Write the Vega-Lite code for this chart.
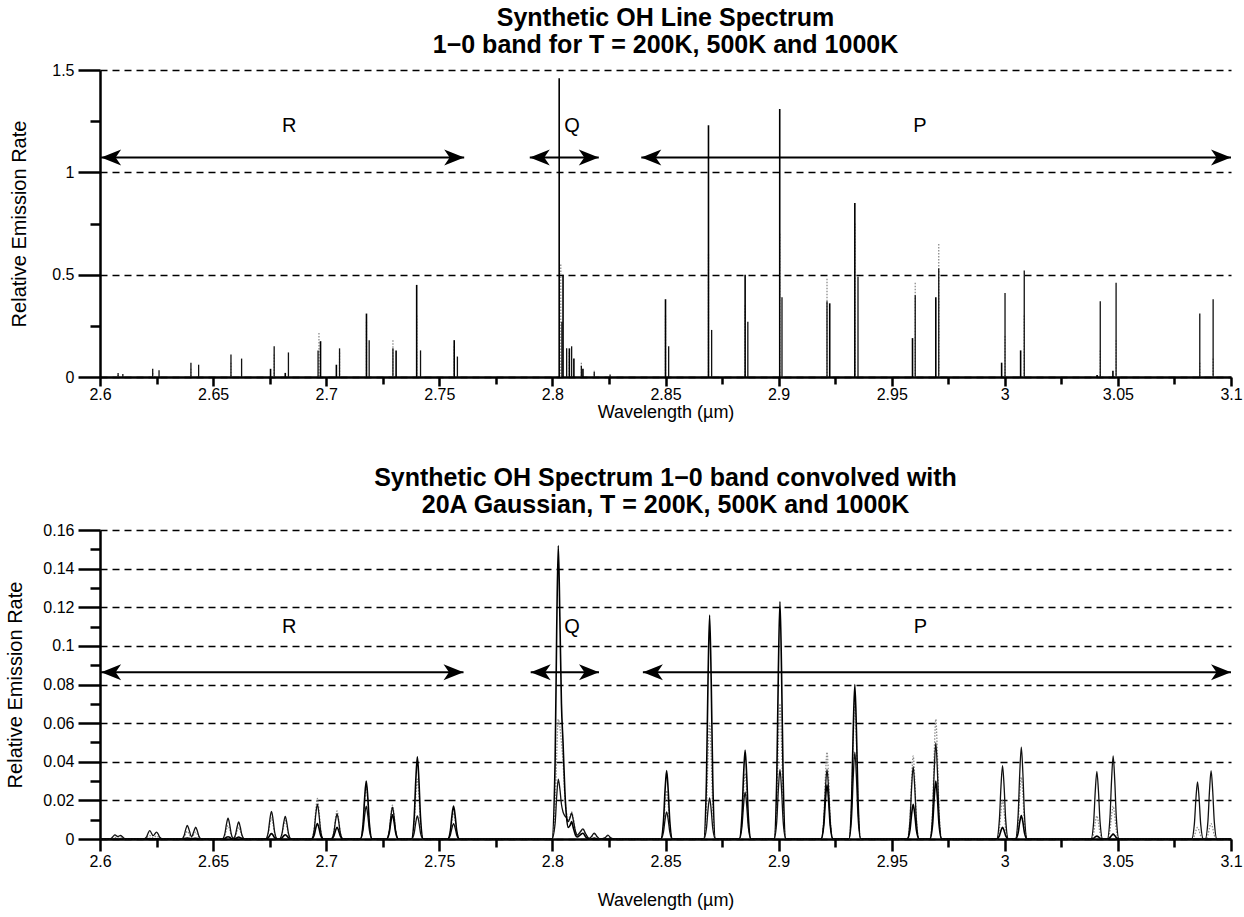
{
  "$schema": "https://vega.github.io/schema/vega-lite/v6.json",
  "background": "white",
  "padding": {"left": 5, "top": 6, "right": 10, "bottom": 4},
  "config": {
    "font": "Liberation Sans",
    "view": {"stroke": null},
    "axis": {
      "labelFont": "Liberation Sans", "titleFont": "Liberation Sans",
      "labelColor": "black", "titleColor": "black", "domainColor": "black", "tickColor": "black",
      "labelFontSize": 16, "titleFontWeight": "normal", "titleFontSize": 20,
      "labelFlush": false, "labelOverlap": false
    },
    "title": {"font": "Liberation Sans", "fontSize": 25, "fontWeight": "bold", "color": "black", "lineHeight": 27, "anchor": "middle", "frame": "group", "offset": 4}
  },
  "bounds": "flush",
  "spacing": 153,
  "datasets": {
    "lines": [
      {"w":2.608,"T":"1000K","v":0.02},{"w":2.608,"T":"500K","v":0.01},
      {"w":2.6101,"T":"1000K","v":0.015},
      {"w":2.6233,"T":"1000K","v":0.04},{"w":2.6233,"T":"500K","v":0.02},
      {"w":2.6261,"T":"1000K","v":0.033},
      {"w":2.6402,"T":"1000K","v":0.07},{"w":2.6402,"T":"500K","v":0.04},
      {"w":2.6436,"T":"1000K","v":0.06},
      {"w":2.6579,"T":"1000K","v":0.11},{"w":2.6579,"T":"500K","v":0.07},
      {"w":2.6626,"T":"1000K","v":0.09},
      {"w":2.6754,"T":"200K","v":0.04},
      {"w":2.677,"T":"1000K","v":0.15},{"w":2.677,"T":"500K","v":0.11},
      {"w":2.6819,"T":"200K","v":0.02},
      {"w":2.6833,"T":"1000K","v":0.12},
      {"w":2.6964,"T":"1000K","v":0.13},
      {"w":2.6968,"T":"500K","v":0.215},
      {"w":2.6975,"T":"200K","v":0.175},
      {"w":2.7045,"T":"200K","v":0.06},
      {"w":2.7059,"T":"1000K","v":0.14},{"w":2.7059,"T":"500K","v":0.12},
      {"w":2.7178,"T":"200K","v":0.31},{"w":2.7178,"T":"500K","v":0.27},
      {"w":2.719,"T":"1000K","v":0.18},
      {"w":2.7295,"T":"1000K","v":0.14},{"w":2.7295,"T":"500K","v":0.18},
      {"w":2.7309,"T":"200K","v":0.13},
      {"w":2.74,"T":"200K","v":0.45},{"w":2.74,"T":"500K","v":0.3},
      {"w":2.7417,"T":"1000K","v":0.13},
      {"w":2.7566,"T":"200K","v":0.18},{"w":2.7566,"T":"500K","v":0.15},
      {"w":2.758,"T":"1000K","v":0.1},
      {"w":2.803,"T":"200K","v":1.46},
      {"w":2.8037,"T":"500K","v":0.55},
      {"w":2.8042,"T":"1000K","v":0.27},
      {"w":2.8047,"T":"200K","v":0.5},
      {"w":2.8063,"T":"1000K","v":0.14},
      {"w":2.8075,"T":"200K","v":0.14},{"w":2.8075,"T":"500K","v":0.12},
      {"w":2.8085,"T":"1000K","v":0.15},
      {"w":2.8095,"T":"200K","v":0.09},
      {"w":2.8128,"T":"500K","v":0.07},{"w":2.8128,"T":"1000K","v":0.055},
      {"w":2.8135,"T":"200K","v":0.04},
      {"w":2.8185,"T":"500K","v":0.03},{"w":2.8185,"T":"1000K","v":0.025},
      {"w":2.8255,"T":"1000K","v":0.012},
      {"w":2.85,"T":"200K","v":0.38},{"w":2.85,"T":"500K","v":0.3},
      {"w":2.8514,"T":"1000K","v":0.15},
      {"w":2.869,"T":"200K","v":1.23},{"w":2.869,"T":"500K","v":0.6},
      {"w":2.8704,"T":"1000K","v":0.23},
      {"w":2.8852,"T":"200K","v":0.5},{"w":2.8852,"T":"500K","v":0.35},
      {"w":2.8864,"T":"1000K","v":0.27},
      {"w":2.9005,"T":"200K","v":1.31},{"w":2.9005,"T":"500K","v":0.7},
      {"w":2.9015,"T":"1000K","v":0.39},
      {"w":2.9214,"T":"500K","v":0.48},{"w":2.9214,"T":"1000K","v":0.37},
      {"w":2.9226,"T":"200K","v":0.36},
      {"w":2.9337,"T":"200K","v":0.85},{"w":2.9337,"T":"500K","v":0.75},
      {"w":2.9351,"T":"1000K","v":0.49},
      {"w":2.9592,"T":"200K","v":0.19},
      {"w":2.9604,"T":"500K","v":0.46},{"w":2.9604,"T":"1000K","v":0.4},
      {"w":2.9695,"T":"200K","v":0.39},
      {"w":2.9708,"T":"500K","v":0.65},{"w":2.9708,"T":"1000K","v":0.53},
      {"w":2.9986,"T":"200K","v":0.07},
      {"w":3.0001,"T":"1000K","v":0.41},{"w":3.0001,"T":"500K","v":0.2},
      {"w":3.007,"T":"200K","v":0.13},
      {"w":3.0086,"T":"1000K","v":0.52},{"w":3.0086,"T":"500K","v":0.3},
      {"w":3.0408,"T":"200K","v":0.01},
      {"w":3.0422,"T":"1000K","v":0.37},{"w":3.0422,"T":"500K","v":0.13},
      {"w":3.0478,"T":"200K","v":0.03},
      {"w":3.0492,"T":"1000K","v":0.46},{"w":3.0492,"T":"500K","v":0.18},
      {"w":3.0862,"T":"1000K","v":0.31},{"w":3.0862,"T":"500K","v":0.07},
      {"w":3.0921,"T":"1000K","v":0.38},{"w":3.0921,"T":"500K","v":0.09}
    ],
    "conv": [
      {"w":2.6,"a":0,"b":0,"c":0},
      {"w":2.604,"a":0,"b":0,"c":0},
      {"w":2.6052,"a":0,"b":0.0002,"c":0.0005},
      {"w":2.6059,"a":0,"b":0.0006,"c":0.0015},
      {"w":2.6066,"a":0,"b":0.0008,"c":0.0021},
      {"w":2.60785,"a":0,"b":0.0005,"c":0.0013},
      {"w":2.6091,"a":0,"b":0.0007,"c":0.0018},
      {"w":2.6098,"a":0,"b":0.0005,"c":0.0013},
      {"w":2.6105,"a":0,"b":0.0002,"c":0.0005},
      {"w":2.6117,"a":0,"b":0,"c":0},
      {"w":2.6194,"a":0,"b":0,"c":0},
      {"w":2.6206,"a":0.0001,"b":0.0005,"c":0.0011},
      {"w":2.6213,"a":0.0001,"b":0.0013,"c":0.0031},
      {"w":2.622,"a":0.0002,"b":0.0018,"c":0.0043},
      {"w":2.6235,"a":0.0001,"b":0.0007,"c":0.0017},
      {"w":2.625,"a":0.0001,"b":0.0015,"c":0.0036},
      {"w":2.6257,"a":0.0001,"b":0.0011,"c":0.0026},
      {"w":2.6264,"a":0,"b":0.0004,"c":0.0009},
      {"w":2.6276,"a":0,"b":0,"c":0},
      {"w":2.636,"a":0,"b":0,"c":0},
      {"w":2.6372,"a":0.0001,"b":0.001,"c":0.0018},
      {"w":2.6379,"a":0.0004,"b":0.0028,"c":0.005},
      {"w":2.6386,"a":0.0005,"b":0.004,"c":0.007},
      {"w":2.6393,"a":0.0004,"b":0.0029,"c":0.0051},
      {"w":2.64045,"a":0.0001,"b":0.0007,"c":0.0012},
      {"w":2.6416,"a":0.0003,"b":0.0025,"c":0.0043},
      {"w":2.6423,"a":0.0004,"b":0.0035,"c":0.0061},
      {"w":2.643,"a":0.0003,"b":0.0025,"c":0.0043},
      {"w":2.6437,"a":0.0001,"b":0.0009,"c":0.0016},
      {"w":2.6449,"a":0,"b":0,"c":0},
      {"w":2.654,"a":0,"b":0,"c":0},
      {"w":2.6552,"a":0.0003,"b":0.0018,"c":0.0028},
      {"w":2.6559,"a":0.0009,"b":0.005,"c":0.0077},
      {"w":2.6566,"a":0.0012,"b":0.007,"c":0.0108},
      {"w":2.6573,"a":0.0009,"b":0.005,"c":0.0077},
      {"w":2.658,"a":0.0003,"b":0.0018,"c":0.0028},
      {"w":2.65895,"a":0,"b":0.0002,"c":0.0004},
      {"w":2.6599,"a":0.0003,"b":0.0016,"c":0.0023},
      {"w":2.6606,"a":0.0007,"b":0.0043,"c":0.0062},
      {"w":2.6613,"a":0.001,"b":0.006,"c":0.0088},
      {"w":2.662,"a":0.0007,"b":0.0043,"c":0.0062},
      {"w":2.6627,"a":0.0003,"b":0.0016,"c":0.0023},
      {"w":2.6639,"a":0,"b":0,"c":0},
      {"w":2.6732,"a":0,"b":0,"c":0},
      {"w":2.6744,"a":0.0007,"b":0.0029,"c":0.0037},
      {"w":2.6751,"a":0.002,"b":0.0078,"c":0.0102},
      {"w":2.6758,"a":0.0028,"b":0.011,"c":0.0143},
      {"w":2.6765,"a":0.002,"b":0.0078,"c":0.0102},
      {"w":2.6772,"a":0.0007,"b":0.0029,"c":0.0037},
      {"w":2.6784,"a":0,"b":0,"c":0},
      {"w":2.6793,"a":0,"b":0,"c":0},
      {"w":2.6805,"a":0.0006,"b":0.0025,"c":0.003},
      {"w":2.6812,"a":0.0016,"b":0.0067,"c":0.0083},
      {"w":2.6819,"a":0.0022,"b":0.0095,"c":0.0117},
      {"w":2.6826,"a":0.0016,"b":0.0067,"c":0.0083},
      {"w":2.6833,"a":0.0006,"b":0.0025,"c":0.003},
      {"w":2.6845,"a":0,"b":0,"c":0},
      {"w":2.6935,"a":0,"b":0,"c":0},
      {"w":2.6947,"a":0.0021,"b":0.0055,"c":0.0047},
      {"w":2.6954,"a":0.0057,"b":0.0149,"c":0.0128},
      {"w":2.6961,"a":0.008,"b":0.021,"c":0.018},
      {"w":2.6968,"a":0.0057,"b":0.0149,"c":0.0128},
      {"w":2.6975,"a":0.0021,"b":0.0055,"c":0.0047},
      {"w":2.6987,"a":0,"b":0,"c":0},
      {"w":2.7022,"a":0,"b":0,"c":0},
      {"w":2.7034,"a":0.0016,"b":0.0038,"c":0.0034},
      {"w":2.7041,"a":0.0043,"b":0.0103,"c":0.0092},
      {"w":2.7048,"a":0.006,"b":0.0145,"c":0.013},
      {"w":2.7055,"a":0.0043,"b":0.0103,"c":0.0092},
      {"w":2.7062,"a":0.0016,"b":0.0038,"c":0.0034},
      {"w":2.7074,"a":0,"b":0,"c":0},
      {"w":2.7151,"a":0,"b":0,"c":0},
      {"w":2.7163,"a":0.0078,"b":0.007,"c":0.0044},
      {"w":2.717,"a":0.0213,"b":0.0192,"c":0.0121},
      {"w":2.7177,"a":0.03,"b":0.027,"c":0.017},
      {"w":2.7184,"a":0.0213,"b":0.0192,"c":0.0121},
      {"w":2.7191,"a":0.0078,"b":0.007,"c":0.0044},
      {"w":2.7203,"a":0,"b":0,"c":0},
      {"w":2.7267,"a":0,"b":0,"c":0},
      {"w":2.7279,"a":0.0033,"b":0.0046,"c":0.0043},
      {"w":2.7286,"a":0.0089,"b":0.0124,"c":0.0117},
      {"w":2.7293,"a":0.0125,"b":0.0175,"c":0.0165},
      {"w":2.73,"a":0.0089,"b":0.0124,"c":0.0117},
      {"w":2.7307,"a":0.0033,"b":0.0046,"c":0.0043},
      {"w":2.7319,"a":0,"b":0,"c":0},
      {"w":2.7377,"a":0,"b":0,"c":0},
      {"w":2.7389,"a":0.0111,"b":0.0081,"c":0.0031},
      {"w":2.7396,"a":0.0302,"b":0.022,"c":0.0085},
      {"w":2.7403,"a":0.0426,"b":0.031,"c":0.012},
      {"w":2.741,"a":0.0302,"b":0.022,"c":0.0085},
      {"w":2.7417,"a":0.0111,"b":0.0081,"c":0.0031},
      {"w":2.7429,"a":0,"b":0,"c":0},
      {"w":2.7537,"a":0,"b":0,"c":0},
      {"w":2.7549,"a":0.0044,"b":0.0035,"c":0.0021},
      {"w":2.7556,"a":0.0121,"b":0.0096,"c":0.0057},
      {"w":2.7563,"a":0.017,"b":0.0135,"c":0.008},
      {"w":2.757,"a":0.0121,"b":0.0096,"c":0.0057},
      {"w":2.7577,"a":0.0044,"b":0.0035,"c":0.0021},
      {"w":2.7589,"a":0,"b":0,"c":0},
      {"w":2.7998,"a":0,"b":0,"c":0},
      {"w":2.8012,"a":0.04,"b":0.016,"c":0.008},
      {"w":2.8019,"a":0.108,"b":0.044,"c":0.022},
      {"w":2.8026,"a":0.152,"b":0.062,"c":0.031},
      {"w":2.8033,"a":0.115,"b":0.058,"c":0.026},
      {"w":2.804,"a":0.07,"b":0.05,"c":0.018},
      {"w":2.8047,"a":0.05,"b":0.04,"c":0.014},
      {"w":2.8055,"a":0.025,"b":0.022,"c":0.012},
      {"w":2.8062,"a":0.012,"b":0.014,"c":0.011},
      {"w":2.807,"a":0.006,"b":0.01,"c":0.009},
      {"w":2.8078,"a":0.007,"b":0.012,"c":0.011},
      {"w":2.8085,"a":0.009,"b":0.014,"c":0.0135},
      {"w":2.8092,"a":0.006,"b":0.011,"c":0.01},
      {"w":2.8102,"a":0.002,"b":0.004,"c":0.004},
      {"w":2.811,"a":0.001,"b":0.002,"c":0.002},
      {"w":2.8122,"a":0.002,"b":0.003,"c":0.0035},
      {"w":2.8135,"a":0.003,"b":0.005,"c":0.0052},
      {"w":2.8148,"a":0.001,"b":0.002,"c":0.0025},
      {"w":2.8162,"a":0,"b":0,"c":0.0003},
      {"w":2.8172,"a":0,"b":0.001,"c":0.0012},
      {"w":2.8185,"a":0.0005,"b":0.0025,"c":0.003},
      {"w":2.8198,"a":0,"b":0.001,"c":0.0012},
      {"w":2.8211,"a":0,"b":0,"c":0},
      {"w":2.8232,"a":0,"b":0.0005,"c":0.0006},
      {"w":2.8245,"a":0,"b":0.0015,"c":0.002},
      {"w":2.8258,"a":0,"b":0.0005,"c":0.0006},
      {"w":2.8272,"a":0,"b":0,"c":0},
      {"w":2.8479,"a":0,"b":0,"c":0},
      {"w":2.8491,"a":0.0092,"b":0.0065,"c":0.0036},
      {"w":2.8498,"a":0.0251,"b":0.0178,"c":0.0099},
      {"w":2.8505,"a":0.0354,"b":0.025,"c":0.014},
      {"w":2.8512,"a":0.0251,"b":0.0178,"c":0.0099},
      {"w":2.8519,"a":0.0092,"b":0.0065,"c":0.0036},
      {"w":2.8531,"a":0,"b":0,"c":0},
      {"w":2.8669,"a":0,"b":0,"c":0},
      {"w":2.8681,"a":0.0302,"b":0.0156,"c":0.0055},
      {"w":2.8688,"a":0.0824,"b":0.0426,"c":0.0151},
      {"w":2.8695,"a":0.116,"b":0.06,"c":0.0213},
      {"w":2.8702,"a":0.0824,"b":0.0426,"c":0.0151},
      {"w":2.8709,"a":0.0302,"b":0.0156,"c":0.0055},
      {"w":2.8721,"a":0,"b":0,"c":0},
      {"w":2.8826,"a":0,"b":0,"c":0},
      {"w":2.8838,"a":0.012,"b":0.0088,"c":0.0063},
      {"w":2.8845,"a":0.0327,"b":0.0241,"c":0.0173},
      {"w":2.8852,"a":0.046,"b":0.034,"c":0.0244},
      {"w":2.8859,"a":0.0327,"b":0.0241,"c":0.0173},
      {"w":2.8866,"a":0.012,"b":0.0088,"c":0.0063},
      {"w":2.8878,"a":0,"b":0,"c":0},
      {"w":2.898,"a":0,"b":0,"c":0},
      {"w":2.8992,"a":0.032,"b":0.0182,"c":0.0094},
      {"w":2.8999,"a":0.0873,"b":0.0497,"c":0.0256},
      {"w":2.9006,"a":0.123,"b":0.07,"c":0.036},
      {"w":2.9013,"a":0.0873,"b":0.0497,"c":0.0256},
      {"w":2.902,"a":0.032,"b":0.0182,"c":0.0094},
      {"w":2.9032,"a":0,"b":0,"c":0},
      {"w":2.9188,"a":0,"b":0,"c":0},
      {"w":2.92,"a":0.0073,"b":0.0117,"c":0.0094},
      {"w":2.9207,"a":0.0199,"b":0.032,"c":0.0256},
      {"w":2.9214,"a":0.028,"b":0.045,"c":0.036},
      {"w":2.9221,"a":0.0199,"b":0.032,"c":0.0256},
      {"w":2.9228,"a":0.0073,"b":0.0117,"c":0.0094},
      {"w":2.924,"a":0,"b":0,"c":0},
      {"w":2.9311,"a":0,"b":0,"c":0},
      {"w":2.9323,"a":0.0208,"b":0.0187,"c":0.0117},
      {"w":2.933,"a":0.0568,"b":0.0511,"c":0.032},
      {"w":2.9337,"a":0.08,"b":0.072,"c":0.045},
      {"w":2.9344,"a":0.0568,"b":0.0511,"c":0.032},
      {"w":2.9351,"a":0.0208,"b":0.0187,"c":0.0117},
      {"w":2.9363,"a":0,"b":0,"c":0},
      {"w":2.9569,"a":0,"b":0,"c":0},
      {"w":2.9581,"a":0.0047,"b":0.0112,"c":0.0098},
      {"w":2.9588,"a":0.0128,"b":0.0305,"c":0.0266},
      {"w":2.9595,"a":0.018,"b":0.043,"c":0.0375},
      {"w":2.9602,"a":0.0128,"b":0.0305,"c":0.0266},
      {"w":2.9609,"a":0.0047,"b":0.0112,"c":0.0098},
      {"w":2.9621,"a":0,"b":0,"c":0},
      {"w":2.9669,"a":0,"b":0,"c":0},
      {"w":2.9681,"a":0.0078,"b":0.0161,"c":0.0129},
      {"w":2.9688,"a":0.0213,"b":0.044,"c":0.0353},
      {"w":2.9695,"a":0.03,"b":0.062,"c":0.0497},
      {"w":2.9702,"a":0.0213,"b":0.044,"c":0.0353},
      {"w":2.9709,"a":0.0078,"b":0.0161,"c":0.0129},
      {"w":2.9721,"a":0,"b":0,"c":0},
      {"w":2.9964,"a":0,"b":0,"c":0},
      {"w":2.9976,"a":0.0016,"b":0.0052,"c":0.0099},
      {"w":2.9983,"a":0.0043,"b":0.0142,"c":0.027},
      {"w":2.999,"a":0.006,"b":0.02,"c":0.038},
      {"w":2.9997,"a":0.0043,"b":0.0142,"c":0.027},
      {"w":3.0004,"a":0.0016,"b":0.0052,"c":0.0099},
      {"w":3.0016,"a":0,"b":0,"c":0},
      {"w":3.0047,"a":0,"b":0,"c":0},
      {"w":3.0059,"a":0.0032,"b":0.0083,"c":0.0124},
      {"w":3.0066,"a":0.0087,"b":0.0227,"c":0.0338},
      {"w":3.0073,"a":0.0122,"b":0.032,"c":0.0476},
      {"w":3.008,"a":0.0087,"b":0.0227,"c":0.0338},
      {"w":3.0087,"a":0.0032,"b":0.0083,"c":0.0124},
      {"w":3.0099,"a":0,"b":0,"c":0},
      {"w":3.0381,"a":0,"b":0,"c":0},
      {"w":3.0393,"a":0.0004,"b":0.0031,"c":0.0091},
      {"w":3.04,"a":0.0011,"b":0.0085,"c":0.0249},
      {"w":3.0407,"a":0.0015,"b":0.012,"c":0.035},
      {"w":3.0414,"a":0.0011,"b":0.0085,"c":0.0249},
      {"w":3.0421,"a":0.0004,"b":0.0031,"c":0.0091},
      {"w":3.0433,"a":0,"b":0,"c":0},
      {"w":3.0453,"a":0,"b":0,"c":0},
      {"w":3.0465,"a":0.0007,"b":0.0044,"c":0.0112},
      {"w":3.0472,"a":0.0018,"b":0.0121,"c":0.0305},
      {"w":3.0479,"a":0.0025,"b":0.017,"c":0.043},
      {"w":3.0486,"a":0.0018,"b":0.0121,"c":0.0305},
      {"w":3.0493,"a":0.0007,"b":0.0044,"c":0.0112},
      {"w":3.0505,"a":0,"b":0,"c":0},
      {"w":3.0826,"a":0,"b":0,"c":0},
      {"w":3.0838,"a":0,"b":0.0016,"c":0.0077},
      {"w":3.0845,"a":0,"b":0.0043,"c":0.021},
      {"w":3.0852,"a":0,"b":0.006,"c":0.0296},
      {"w":3.0859,"a":0,"b":0.0043,"c":0.021},
      {"w":3.0866,"a":0,"b":0.0016,"c":0.0077},
      {"w":3.0878,"a":0,"b":0,"c":0},
      {"w":3.0886,"a":0,"b":0,"c":0},
      {"w":3.0898,"a":0,"b":0.0021,"c":0.0092},
      {"w":3.0905,"a":0,"b":0.0057,"c":0.0251},
      {"w":3.0912,"a":0,"b":0.008,"c":0.0354},
      {"w":3.0919,"a":0,"b":0.0057,"c":0.0251},
      {"w":3.0926,"a":0,"b":0.0021,"c":0.0092},
      {"w":3.0938,"a":0,"b":0,"c":0},
      {"w":3.1,"a":0,"b":0,"c":0}
    ],
    "shaftsTop": [
      {"x1":2.6005,"x2":2.761,"y":1.073},
      {"x1":2.79,"x2":2.8205,"y":1.073},
      {"x1":2.8393,"x2":3.1,"y":1.073}
    ],
    "headsTop": [
      {"x":2.6005,"y":1.073,"dir":"left"},{"x":2.761,"y":1.073,"dir":"right"},
      {"x":2.79,"y":1.073,"dir":"left"},{"x":2.8205,"y":1.073,"dir":"right"},
      {"x":2.8393,"y":1.073,"dir":"left"},{"x":3.1,"y":1.073,"dir":"right"}
    ],
    "namesTop": [
      {"x":2.6837,"y":1.228,"t":"R"},{"x":2.8087,"y":1.228,"t":"Q"},{"x":2.9625,"y":1.228,"t":"P"}
    ],
    "shaftsBottom": [
      {"x1":2.6005,"x2":2.7607,"y":0.0864},
      {"x1":2.7904,"x2":2.8206,"y":0.0864},
      {"x1":2.84,"x2":3.1,"y":0.0864}
    ],
    "headsBottom": [
      {"x":2.6005,"y":0.0864,"dir":"left"},{"x":2.7607,"y":0.0864,"dir":"right"},
      {"x":2.7904,"y":0.0864,"dir":"left"},{"x":2.8206,"y":0.0864,"dir":"right"},
      {"x":2.84,"y":0.0864,"dir":"left"},{"x":3.1,"y":0.0864,"dir":"right"}
    ],
    "namesBottom": [
      {"x":2.6837,"y":0.11,"t":"R"},{"x":2.8087,"y":0.11,"t":"Q"},{"x":2.9627,"y":0.11,"t":"P"}
    ]
  },
  "vconcat": [
    {
      "title": {"text": ["Synthetic OH Line Spectrum", "1−0 band for T = 200K, 500K and 1000K"]},
      "width": 1131,
      "height": 307,
      "resolve": {"axis": {"x": "independent", "y": "independent"}},
      "layer": [
        {
          "data": {"name": "lines"},
          "transform": [{"filter": "datum.T === '500K'"}],
          "mark": {"type": "rule", "color": "#8c8c8c", "strokeWidth": 1.3, "strokeDash": [1.5, 1.5]},
          "encoding": {
            "x": {"field": "w", "type": "quantitative", "scale": {"domain": [2.6, 3.1], "nice": false, "zero": false},
              "axis": {"values": [2.6, 2.65, 2.7, 2.75, 2.8, 2.85, 2.9, 2.95, 3, 3.05, 3.1], "format": "~g", "tickSize": 9, "tickWidth": 2.5, "domainWidth": 2.5, "labelPadding": 0, "grid": false, "title": "Wavelength (µm)", "titleFontSize": 18, "titlePadding": 1}},
            "y": {"field": "v", "type": "quantitative", "scale": {"domain": [0, 1.5], "nice": false},
              "axis": {"values": [0, 0.5, 1, 1.5], "format": "~g", "tickSize": 22, "tickWidth": 2.5, "domainWidth": 2.5, "labelPadding": 4, "grid": true, "gridDash": [7, 5], "gridColor": "black", "gridWidth": 1.5, "gridOpacity": 1, "title": "Relative Emission Rate", "titlePadding": 22}},
            "y2": {"datum": 0}
          }
        },
        {
          "data": {"name": "lines"},
          "transform": [{"filter": "datum.T === '1000K'"}],
          "mark": {"type": "rule", "color": "#111111", "strokeWidth": 1.3},
          "encoding": {
            "x": {"field": "w", "type": "quantitative",
              "axis": {"orient": "bottom", "values": [2.625, 2.675, 2.725, 2.775, 2.825, 2.875, 2.925, 2.975, 3.025, 3.075], "tickSize": 7, "tickWidth": 2.5, "labels": false, "domain": false, "grid": false, "title": null}},
            "y": {"field": "v", "type": "quantitative",
              "axis": {"orient": "left", "values": [0.25, 0.75, 1.25], "tickSize": 10, "tickWidth": 2.5, "labels": false, "domain": false, "grid": false, "title": null}},
            "y2": {"datum": 0}
          }
        },
        {
          "data": {"name": "lines"},
          "transform": [{"filter": "datum.T === '200K'"}],
          "mark": {"type": "rule", "color": "black", "strokeWidth": 1.6},
          "encoding": {
            "x": {"field": "w", "type": "quantitative", "axis": null},
            "y": {"field": "v", "type": "quantitative", "axis": null},
            "y2": {"datum": 0}
          }
        },
        {
          "data": {"name": "shaftsTop"},
          "mark": {"type": "rule", "color": "black", "strokeWidth": 2},
          "encoding": {
            "x": {"field": "x1", "type": "quantitative", "axis": null},
            "x2": {"field": "x2"},
            "y": {"field": "y", "type": "quantitative", "axis": null}
          }
        },
        {
          "data": {"name": "headsTop"},
          "mark": {"type": "point", "filled": true, "color": "black", "opacity": 1, "size": 400},
          "encoding": {
            "x": {"field": "x", "type": "quantitative", "axis": null},
            "y": {"field": "y", "type": "quantitative", "axis": null},
            "shape": {"field": "dir", "type": "nominal", "legend": null,
              "scale": {"domain": ["left", "right"], "range": ["M0,0L2,-0.8L1.45,0L2,0.8Z", "M0,0L-2,-0.8L-1.45,0L-2,0.8Z"]}}
          }
        },
        {
          "data": {"name": "namesTop"},
          "mark": {"type": "text", "fontSize": 20, "font": "Liberation Sans", "color": "black", "align": "center", "baseline": "middle"},
          "encoding": {
            "x": {"field": "x", "type": "quantitative", "axis": null},
            "y": {"field": "y", "type": "quantitative", "axis": null},
            "text": {"field": "t"}
          }
        }
      ]
    },
    {
      "title": {"text": ["Synthetic OH Spectrum 1−0 band convolved with", "20A Gaussian, T = 200K, 500K and 1000K"]},
      "width": 1131,
      "height": 309,
      "resolve": {"axis": {"x": "independent", "y": "independent"}},
      "layer": [
        {
          "data": {"name": "conv"},
          "mark": {"type": "line", "color": "#8c8c8c", "strokeWidth": 1.3, "strokeDash": [1.5, 1.5], "interpolate": "monotone"},
          "encoding": {
            "x": {"field": "w", "type": "quantitative", "scale": {"domain": [2.6, 3.1], "nice": false, "zero": false},
              "axis": {"values": [2.6, 2.65, 2.7, 2.75, 2.8, 2.85, 2.9, 2.95, 3, 3.05, 3.1], "format": "~g", "tickSize": 12, "tickWidth": 2.5, "domainWidth": 2.5, "labelPadding": 2, "grid": false, "title": "Wavelength (µm)", "titleFontSize": 18, "titlePadding": 22}},
            "y": {"field": "b", "type": "quantitative", "scale": {"domain": [0, 0.16], "nice": false},
              "axis": {"values": [0, 0.02, 0.04, 0.06, 0.08, 0.1, 0.12, 0.14, 0.16], "format": "~g", "tickSize": 22, "tickWidth": 2.5, "domainWidth": 2.5, "labelPadding": 4, "grid": true, "gridDash": [7, 5], "gridColor": "black", "gridWidth": 1.5, "gridOpacity": 1, "title": "Relative Emission Rate", "titlePadding": 17}}
          }
        },
        {
          "data": {"name": "conv"},
          "mark": {"type": "line", "color": "#111111", "strokeWidth": 1.3, "interpolate": "monotone"},
          "encoding": {
            "x": {"field": "w", "type": "quantitative",
              "axis": {"orient": "bottom", "values": [2.625, 2.675, 2.725, 2.775, 2.825, 2.875, 2.925, 2.975, 3.025, 3.075], "tickSize": 8, "tickWidth": 2.5, "labels": false, "domain": false, "grid": false, "title": null}},
            "y": {"field": "c", "type": "quantitative",
              "axis": {"orient": "left", "values": [0.01, 0.03, 0.05, 0.07, 0.09, 0.11, 0.13, 0.15], "tickSize": 10, "tickWidth": 2.5, "labels": false, "domain": false, "grid": false, "title": null}}
          }
        },
        {
          "data": {"name": "conv"},
          "mark": {"type": "line", "color": "black", "strokeWidth": 1.6, "interpolate": "monotone"},
          "encoding": {
            "x": {"field": "w", "type": "quantitative", "axis": null},
            "y": {"field": "a", "type": "quantitative", "axis": null}
          }
        },
        {
          "data": {"name": "shaftsBottom"},
          "mark": {"type": "rule", "color": "black", "strokeWidth": 2},
          "encoding": {
            "x": {"field": "x1", "type": "quantitative", "axis": null},
            "x2": {"field": "x2"},
            "y": {"field": "y", "type": "quantitative", "axis": null}
          }
        },
        {
          "data": {"name": "headsBottom"},
          "mark": {"type": "point", "filled": true, "color": "black", "opacity": 1, "size": 400},
          "encoding": {
            "x": {"field": "x", "type": "quantitative", "axis": null},
            "y": {"field": "y", "type": "quantitative", "axis": null},
            "shape": {"field": "dir", "type": "nominal", "legend": null,
              "scale": {"domain": ["left", "right"], "range": ["M0,0L2,-0.8L1.45,0L2,0.8Z", "M0,0L-2,-0.8L-1.45,0L-2,0.8Z"]}}
          }
        },
        {
          "data": {"name": "namesBottom"},
          "mark": {"type": "text", "fontSize": 20, "font": "Liberation Sans", "color": "black", "align": "center", "baseline": "middle"},
          "encoding": {
            "x": {"field": "x", "type": "quantitative", "axis": null},
            "y": {"field": "y", "type": "quantitative", "axis": null},
            "text": {"field": "t"}
          }
        }
      ]
    }
  ]
}
